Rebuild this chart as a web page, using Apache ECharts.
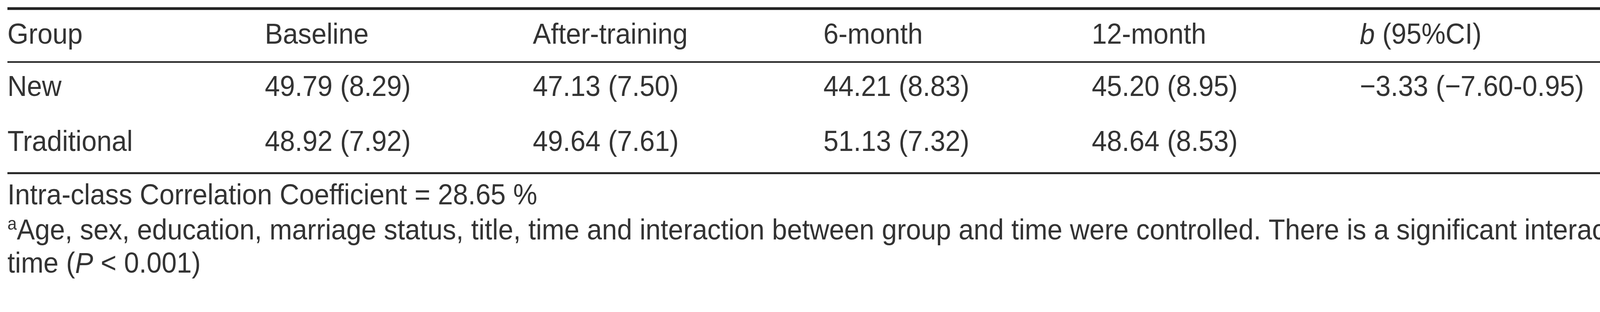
<!DOCTYPE html>
<html><head><meta charset="utf-8">
<script src="https://cdn.jsdelivr.net/npm/echarts@6/dist/echarts.min.js"></script>
<style>html,body{margin:0;padding:0;background:#fff;overflow:hidden}#c{width:4997px;height:800px}</style>
</head><body><div id="c"></div>
<script>
const headers = ['Group','Baseline','After-training','6-month','12-month'];
const rowNew = ['New','49.79 (8.29)','47.13 (7.50)','44.21 (8.83)','45.20 (8.95)','\u22123.33 (\u22127.60-0.95)','\u22122.21 (\u22126.42-1.98)'];
const rowTrad = ['Traditional','48.92 (7.92)','49.64 (7.61)','51.13 (7.32)','48.64 (8.53)','',''];
const iccNote = 'Intra-class Correlation Coefficient = 28.65 %';
const footLine1 = 'Age, sex, education, marriage status, title, time and interaction between group and time were controlled. There is a significant interaction between group and';
const footLine2a = 'time (';
const footLine2b = 'P';
const footLine2c = ' < 0.001)';

const colX = [19, 678, 1364, 2108, 2795, 3481, 4379];
const FONT = 'Liberation Sans';
const FS = 74, COLOR = '#333';
const cv = document.createElement('canvas').getContext('2d');
function w(t, size, italic){ cv.font = (italic?'italic ':'') + size + 'px "' + FONT + '"'; return cv.measureText(t).width; }
// horizontal condensing so the footnote line spans as in the reference
const SX = (4836 - 19 - w('a',46)) / w(footLine1, FS);
function sw(t, size, italic){ return w(t, size, italic) * SX; }

const g = [];
function txt(t, x, y, opts){
  opts = opts || {};
  g.push({type:'text', x:x, y:y, scaleX:SX, style:{text:t, fill:COLOR, font:(opts.italic?'italic ':'') + (opts.size||FS) + 'px "' + FONT + '"', textVerticalAlign:'middle', textAlign:'left'}});
}
function rule(y, h){ g.push({type:'rect', shape:{x:19, y:y - h/2, width:4945, height:h}, style:{fill:'#222'}}); }

rule(22, 7); rule(159, 4); rule(444, 5);
const hy = 92;
headers.forEach((h,i)=>txt(h, colX[i], hy));
txt('b', colX[5], hy, {italic:true});
txt(' (95%CI)', colX[5] + sw('b',FS,true), hy);
let x = colX[6];
txt('b', x, hy, {italic:true}); x += sw('b',FS,true);
txt('ad', x, hy + 20, {size:50}); x += sw('ad',50);
txt(' (95%CI)', x, hy); x += sw(' (95%CI)',FS);
txt('a', x + 2, hy - 28, {size:46});

rowNew.forEach((t,i)=>t && txt(t, colX[i], 226));
rowTrad.forEach((t,i)=>t && txt(t, colX[i], 367));
txt(iccNote, 19, 504);
txt('a', 19, 576, {size:46});
txt(footLine1, 19 + sw('a',46), 594);
let fx = 19;
txt(footLine2a, fx, 679); fx += sw(footLine2a, FS);
txt(footLine2b, fx, 679, {italic:true}); fx += sw(footLine2b, FS, true);
txt(footLine2c, fx, 679);

const chart = echarts.init(document.getElementById('c'));
chart.setOption({backgroundColor:'#fff', graphic:{elements:g}});
</script></body></html>
